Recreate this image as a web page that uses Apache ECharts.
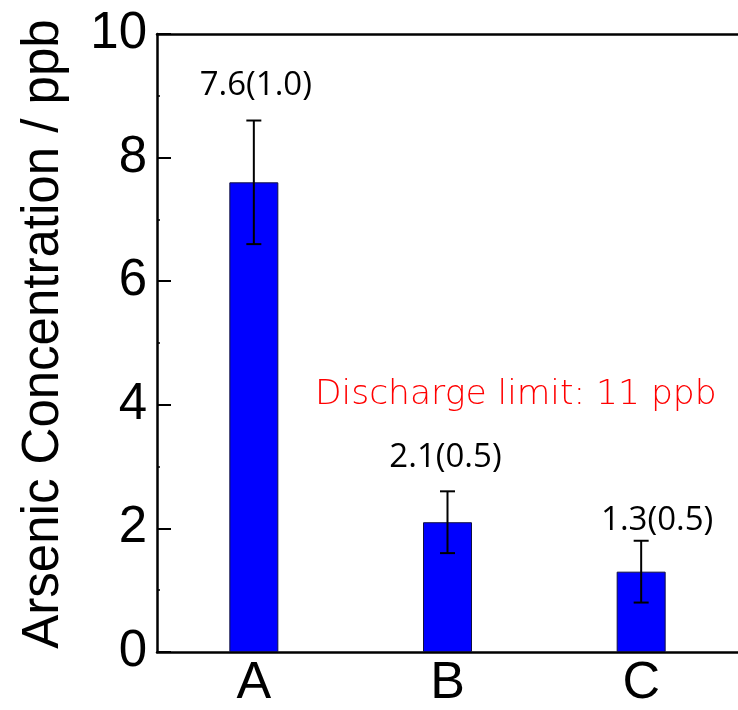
<!DOCTYPE html>
<html>
<head>
<meta charset="utf-8">
<script src="https://cdn.jsdelivr.net/npm/echarts@6/dist/echarts.min.js"></script>
<style>
  html, body { margin: 0; padding: 0; background: #fff; }
  #chart { width: 738px; height: 710px; }
</style>
</head>
<body>
<div id="chart"></div>
<script>
// Arsenic concentration per sample, mean with standard deviation
const categories = ['A', 'B', 'C'];
const means = [7.6, 2.1, 1.3];
const stdDevs = [1.0, 0.5, 0.5];
const limitNote = 'Discharge limit: 11 ppb';

// pixel nudges for the value labels above each error bar
const labelOffsets = [[2, -35], [-2, -34], [16, -20]];

const chart = echarts.init(document.getElementById('chart'), null, { renderer: 'canvas' });

const errorData = categories.map((c, i) => [i, means[i] - stdDevs[i], means[i] + stdDevs[i], means[i], stdDevs[i]]);

function renderError(params, api) {
  const idx = api.value(0);
  const low = api.coord([idx, api.value(1)]);
  const high = api.coord([idx, api.value(2)]);
  const capHalf = 7.5;
  const lineStyle = { stroke: '#000', lineWidth: 2 };
  const off = labelOffsets[params.dataIndex];
  const text = api.value(3).toFixed(1) + '(' + api.value(4).toFixed(1) + ')';
  return {
    type: 'group',
    children: [
      { type: 'line', shape: { x1: high[0], y1: high[1], x2: low[0], y2: low[1] }, style: lineStyle },
      { type: 'line', shape: { x1: high[0] - capHalf, y1: high[1], x2: high[0] + capHalf, y2: high[1] }, style: lineStyle },
      { type: 'line', shape: { x1: low[0] - capHalf, y1: low[1], x2: low[0] + capHalf, y2: low[1] }, style: lineStyle },
      {
        type: 'text',
        style: {
          text: text,
          x: high[0] + off[0],
          y: high[1] + off[1],
          align: 'center',
          verticalAlign: 'middle',
          fill: '#000',
          font: '33px "Open Sans", "Noto Sans", sans-serif'
        }
      }
    ]
  };
}

chart.setOption({
  animation: false,
  backgroundColor: '#fff',
  grid: { left: 157, top: 34, width: 591, height: 620, containLabel: false },
  xAxis: [
    {
      type: 'category',
      data: categories,
      position: 'bottom',
      axisLine: { show: true, lineStyle: { color: '#000', width: 2.5 } },
      axisTick: { show: false },
      axisLabel: {
        color: '#000',
        fontFamily: 'Liberation Sans, Arial, sans-serif',
        fontSize: 52,
        margin: 6
      },
      splitLine: { show: false }
    },
    {
      type: 'category',
      data: categories,
      position: 'top',
      axisLine: { show: true, lineStyle: { color: '#000', width: 2.5 } },
      axisTick: { show: false },
      axisLabel: { show: false },
      splitLine: { show: false }
    }
  ],
  yAxis: {
    type: 'value',
    min: 0,
    max: 10,
    interval: 2,
    name: 'Arsenic Concentration / ppb',
    nameLocation: 'middle',
    nameGap: 88,
    nameTextStyle: {
      color: '#000',
      fontFamily: 'Liberation Sans, Arial, sans-serif',
      fontSize: 51,
      padding: [0, 0, 0, 18]
    },
    axisLine: { show: true, lineStyle: { color: '#000', width: 2.5 } },
    axisTick: { show: true, inside: true, length: 14, lineStyle: { color: '#000', width: 2 } },
    minorTick: { show: true, splitNumber: 2, length: 3, lineStyle: { color: '#000', width: 1.5 } },
    axisLabel: {
      color: '#000',
      fontFamily: 'Liberation Sans, Arial, sans-serif',
      fontSize: 51,
      margin: 10
    },
    splitLine: { show: false }
  },
  series: [
    {
      type: 'bar',
      data: means,
      barWidth: 49,
      itemStyle: { color: '#0000ff', borderColor: '#101040', borderWidth: 1 },
      z: 2
    },
    {
      type: 'custom',
      data: errorData,
      renderItem: renderError,
      z: 3
    }
  ],
  graphic: [
    {
      type: 'text',
      left: 315,
      top: 378,
      style: {
        text: limitNote,
        fill: '#ff0000',
        font: '200 34.5px "DejaVu Sans", sans-serif'
      }
    }
  ]
});
</script>
</body>
</html>
